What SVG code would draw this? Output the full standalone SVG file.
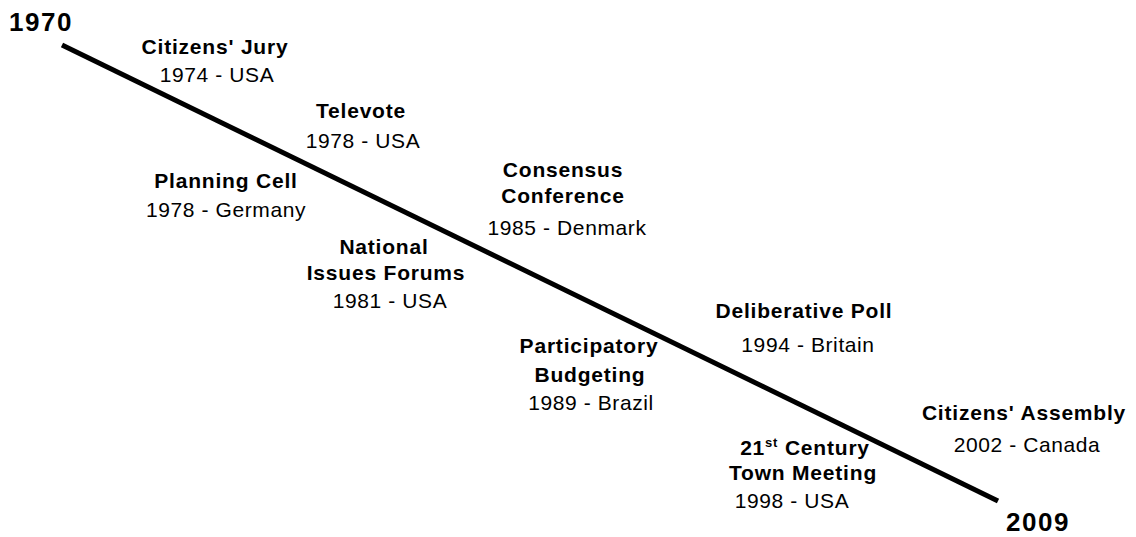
<svg xmlns="http://www.w3.org/2000/svg" width="1136" height="537" viewBox="0 0 1136 537">
<style>
text{font-family:"Liberation Sans",Arial,sans-serif;fill:#000;text-anchor:middle}
.t{font-weight:bold;font-size:21px;letter-spacing:0.8px}
.d{font-size:21px;letter-spacing:0.6px}
.y{font-weight:bold;font-size:26px;letter-spacing:1.5px;text-anchor:start}
.sup{font-size:13px}
</style>
<rect width="1136" height="537" fill="#fff"/>
<g id="connectors">
<line x1="62" y1="45" x2="998" y2="501" stroke="#000" stroke-width="5"/>
</g>
<g id="start"><text class="y" x="9" y="31">1970</text></g>
<g id="end"><text class="y" x="1006" y="531">2009</text></g>
<g id="citizens-jury"><text class="t" x="215" y="54">Citizens' Jury</text><text class="d" x="217" y="82">1974 - USA</text></g>
<g id="televote"><text class="t" x="361" y="118">Televote</text><text class="d" x="363" y="148">1978 - USA</text></g>
<g id="planning-cell"><text class="t" x="226" y="188">Planning Cell</text><text class="d" x="226" y="217">1978 -  Germany</text></g>
<g id="consensus-conference"><text class="t" x="563" y="177">Consensus</text><text class="t" x="563" y="203">Conference</text><text class="d" x="567" y="235">1985 - Denmark</text></g>
<g id="national-issues-forums"><text class="t" x="384" y="254">National</text><text class="t" x="386" y="280">Issues Forums</text><text class="d" x="390" y="308">1981 - USA</text></g>
<g id="deliberative-poll"><text class="t" x="804" y="318">Deliberative Poll</text><text class="d" x="808" y="352">1994 - Britain</text></g>
<g id="participatory-budgeting"><text class="t" x="589" y="353">Participatory</text><text class="t" x="590" y="382">Budgeting</text><text class="d" x="591" y="410">1989 - Brazil</text></g>
<g id="citizens-assembly"><text class="t" x="1024" y="420">Citizens' Assembly</text><text class="d" x="1027" y="452">2002 - Canada</text></g>
<g id="town-meeting"><text class="t" x="805" y="455">21<tspan class="sup" dy="-8">st</tspan><tspan dy="8"> Century</tspan></text><text class="t" x="803" y="480">Town Meeting</text><text class="d" x="792" y="508">1998 - USA</text></g>
</svg>
